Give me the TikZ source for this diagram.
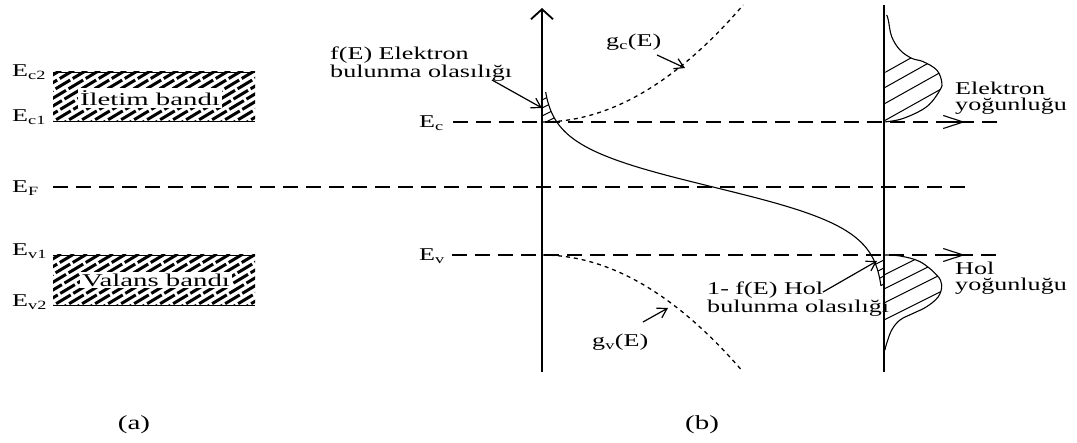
\documentclass[tikz,border=0pt]{standalone}
\usepackage{fontspec}
\setmainfont{Liberation Serif}[FakeStretch=1.45]
\newfontfamily\bandfont{Liberation Serif}[FakeStretch=1.6]
\usetikzlibrary{arrows.meta}
\begin{document}
\begin{tikzpicture}[x=1pt,y=-1pt,
 lvl/.style={line width=1.1pt, dash pattern=on 15pt off 8pt},
 axisline/.style={line width=1.8pt},
 curve/.style={line width=1.1pt},
 dos/.style={line width=1.3pt, dash pattern=on 4pt off 4pt},
 hatchthick/.style={line width=3pt, dash pattern=on 17pt off 3pt},
 hatchthin/.style={line width=1pt},
 lab/.style={font=\fontsize{18}{16}\selectfont, inner sep=0pt},
 caplab/.style={font=\fontsize{20}{20}\selectfont, inner sep=0pt},
 bandlab/.style={font=\bandfont\fontsize{18}{18}\selectfont, fill=white, inner sep=2pt},
 labarrow/.style={line width=1.2pt, -{Straight Barb[length=9pt,width=11pt]}},
 densarrow/.style={line width=1.1pt, -{Straight Barb[length=20pt,width=13pt]}},
]
\useasboundingbox (0,0) rectangle (1077,443);

% ---------- (a) band diagram ----------
\begin{scope}
 \clip (53,72) rectangle (255,121);
 \foreach \i in {-10,...,20}
   \draw[hatchthick] ({13+\i*13},130) -- ({113+\i*13},70);
\end{scope}
\draw[line width=0.8pt] (53,72) -- (255,72) (53,121) -- (255,121);
\begin{scope}
 \clip (53,255) rectangle (255,305);
 \foreach \i in {-10,...,20}
   \draw[hatchthick] ({13+\i*13},314) -- ({113+\i*13},254);
\end{scope}
\draw[line width=0.8pt] (53,255) -- (255,255) (53,305) -- (255,305);
\node[bandlab] (cband) at (150,98) {İletim bandı};
\node[bandlab] (vband) at (156,280) {Valans bandı};

\node[lab, anchor=base west] (Ec2) at (12,77) {E\textsubscript{c2}};
\node[lab, anchor=base west] (Ec1) at (12,122) {E\textsubscript{c1}};
\node[lab, anchor=base west] (EF) at (12,193) {E\textsubscript{F}};
\node[lab, anchor=base west] (Ev1) at (12,256) {E\textsubscript{v1}};
\node[lab, anchor=base west] (Ev2) at (12,307) {E\textsubscript{v2}};

% ---------- level lines ----------
\draw[lvl] (53,187) -- (968,187);
\draw[lvl] (453,122) -- (1000,122);
\draw[lvl] (452,255) -- (1000,255);
\node[lab, anchor=base west] (Ec) at (419,128) {E\textsubscript{c}};
\node[lab, anchor=base west] (Ev) at (419,261) {E\textsubscript{v}};

% ---------- (b) axes ----------
\coordinate (ax1b) at (542,372);
\coordinate (ax1t) at (542,8);
\coordinate (ax2b) at (884,372);
\coordinate (ax2t) at (884,5);
\draw[axisline, -{Straight Barb[length=10pt,width=22pt]}] (ax1b) -- (ax1t);
\draw[axisline] (ax2b) -- (ax2t);

% density axis arrow heads
\coordinate (ntip) at (965,122);
\coordinate (ptip) at (965,255);
\draw[densarrow] (950,122) -- (ntip);
\draw[densarrow] (950,255) -- (ptip);

% ---------- Fermi function ----------
\draw[curve] plot[domain=92:286, samples=90, variable=\t] ({542+342/(1+exp((187-\t)/21))}, \t);

% small hatch near Ec
\begin{scope}
 \clip plot[domain=92:122, samples=30, variable=\t] ({542+342/(1+exp((187-\t)/21))}, \t) -- (542,122) -- (542,92) -- cycle;
 \foreach \c in {100,108,116,124}
   \draw[hatchthin] (542,\c) -- (572,{\c-15});
\end{scope}
% small hatch near Ev
\begin{scope}
 \clip plot[domain=255:286, samples=30, variable=\t] ({542+342/(1+exp((187-\t)/21))}, \t) -- (884,286) -- (884,255) -- cycle;
 \foreach \c in {260,268,276,284}
   \draw[hatchthin] (860,{\c+12}) -- (884,\c);
\end{scope}

% ---------- densities of states ----------
\draw[dos] plot[domain=0:10.82, samples=50, variable=\u] ({542+18.6*\u}, {122-\u*\u});
\draw[dos] plot[domain=0:10.72, samples=50, variable=\u] ({542+18.6*\u}, {255+\u*\u});

% electron concentration
\draw[curve] plot[smooth, tension=0.6] coordinates {(884,122) (903,118.5) (926.7,106.7) (940,90) (941.7,81.7) (936.7,70) (923.3,61.7) (911.7,58.3) (900,50) (891.7,36.7) (888.3,20) (886.7,15)};
\begin{scope}
 \clip plot[smooth, tension=0.6] coordinates {(884,122) (903,118.5) (926.7,106.7) (940,90) (941.7,81.7) (936.7,70) (923.3,61.7) (911.7,58.3) (900,50) (891.7,36.7) (888.3,20) (886.7,15)} -- cycle;
 \foreach \c in {121,104,88,73}
   \draw[hatchthin] (884,\c) -- (960,{\c-0.56*76});
\end{scope}

% hole concentration
\draw[curve] plot[smooth, tension=0.6] coordinates {(884,255) (900,256) (920,261.7) (936.7,275) (941.7,285) (938.3,296.7) (926.7,306.7) (913.3,313.3) (900,320) (891.7,330) (886.7,343.3) (885,350)};
\begin{scope}
 \clip plot[smooth, tension=0.6] coordinates {(884,255) (900,256) (920,261.7) (936.7,275) (941.7,285) (938.3,296.7) (926.7,306.7) (913.3,313.3) (900,320) (891.7,330) (886.7,343.3) (885,350)} -- cycle;
 \foreach \c in {275,289,303,320}
   \draw[hatchthin] (884,\c) -- (960,{\c-0.5*76});
\end{scope}

% ---------- labels ----------
\node[lab, anchor=north west, align=left] (fElab) at (330,47) {f(E) Elektron\\bulunma olasılığı};
\coordinate (fEa) at (492,80);
\coordinate (fEb) at (542,108);
\draw[labarrow] (fEa) -- (fEb);

\node[lab, anchor=base west] (gclab) at (606,47) {g\textsubscript{c}(E)};
\coordinate (gca) at (657,55);
\coordinate (gcb) at (685,68);
\draw[labarrow] (gca) -- (gcb);

\node[lab, anchor=base west] (gvlab) at (592,347) {g\textsubscript{v}(E)};
\coordinate (gva) at (643,322);
\coordinate (gvb) at (668,308);
\draw[labarrow] (gva) -- (gvb);

\node[lab, anchor=north west, align=left] (holprob) at (707,282) {1- f(E) Hol\\bulunma olasılığı};
\coordinate (hpa) at (823,292);
\coordinate (hpb) at (877,261);
\draw[labarrow] (hpa) -- (hpb);

\node[lab, anchor=north west, align=left] (nlab) at (955,82) {Elektron\\yoğunluğu};
\node[lab, anchor=north west, align=left] (plab) at (955,262) {Hol\\yoğunluğu};

\node[caplab] (acap) at (134,425) {(a)};
\node[caplab] (bcap) at (702,425) {(b)};
\end{tikzpicture}
\end{document}
